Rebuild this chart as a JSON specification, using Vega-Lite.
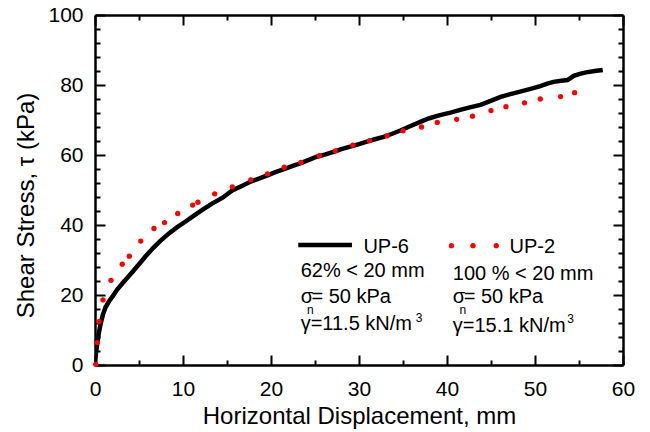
{
  "$schema": "https://vega.github.io/schema/vega-lite/v6.json",
  "width": 528,
  "height": 350,
  "autosize": {"type": "none"},
  "padding": {"left": 95, "top": 15, "right": 27, "bottom": 67},
  "background": "white",
  "config": {
    "view": {"stroke": null},
    "font": "Liberation Sans",
    "axis": {
      "grid": false,
      "domainColor": "black",
      "domainWidth": 2.5,
      "tickColor": "black",
      "tickWidth": 2,
      "labelColor": "black",
      "labelFont": "Liberation Sans",
      "labelFontSize": 21,
      "labelOverlap": false,
      "labelFlush": false,
      "titleColor": "black",
      "titleFont": "Liberation Sans",
      "titleFontWeight": "normal",
      "titleFontSize": 24
    }
  },
  "datasets": {
    "up6": [
      {"d": 0, "s": 0}, {"d": 0.1, "s": 3.2}, {"d": 0.26, "s": 6.2}, {"d": 0.45, "s": 9.3},
      {"d": 0.65, "s": 11.9}, {"d": 0.9, "s": 14.4}, {"d": 1.2, "s": 16.5}, {"d": 1.6, "s": 18.2},
      {"d": 2.0, "s": 19.6}, {"d": 2.5, "s": 21.5}, {"d": 3.1, "s": 23.3}, {"d": 3.7, "s": 25.0},
      {"d": 4.3, "s": 26.7}, {"d": 5.0, "s": 28.8}, {"d": 5.8, "s": 31.2}, {"d": 6.6, "s": 33.4},
      {"d": 7.4, "s": 35.4}, {"d": 8.4, "s": 37.6}, {"d": 9.3, "s": 39.3}, {"d": 10.3, "s": 41.0},
      {"d": 11.2, "s": 42.6}, {"d": 12.2, "s": 44.3}, {"d": 13.3, "s": 46.1}, {"d": 14.5, "s": 47.8},
      {"d": 15.6, "s": 49.9}, {"d": 16.8, "s": 51.3}, {"d": 17.7, "s": 52.4}, {"d": 18.7, "s": 53.3},
      {"d": 19.6, "s": 54.2}, {"d": 20.5, "s": 55.1}, {"d": 21.4, "s": 55.9}, {"d": 22.4, "s": 56.8},
      {"d": 23.3, "s": 57.6}, {"d": 24.3, "s": 58.6}, {"d": 25.2, "s": 59.5}, {"d": 26.2, "s": 60.2},
      {"d": 27.1, "s": 60.9}, {"d": 28.0, "s": 61.7}, {"d": 29.0, "s": 62.4}, {"d": 30.0, "s": 63.1},
      {"d": 30.9, "s": 63.8}, {"d": 31.8, "s": 64.5}, {"d": 32.8, "s": 65.2}, {"d": 33.7, "s": 66.0},
      {"d": 34.7, "s": 67.0}, {"d": 35.8, "s": 68.2}, {"d": 36.9, "s": 69.4}, {"d": 38.0, "s": 70.5},
      {"d": 39.2, "s": 71.4}, {"d": 40.4, "s": 72.1}, {"d": 41.5, "s": 72.9}, {"d": 42.6, "s": 73.6},
      {"d": 43.8, "s": 74.3}, {"d": 44.9, "s": 75.4}, {"d": 46.1, "s": 76.6}, {"d": 47.2, "s": 77.4},
      {"d": 48.3, "s": 78.1}, {"d": 49.5, "s": 78.9}, {"d": 50.6, "s": 79.7}, {"d": 51.4, "s": 80.4},
      {"d": 52.1, "s": 80.9}, {"d": 53.0, "s": 81.2}, {"d": 53.7, "s": 81.4}, {"d": 54.4, "s": 82.6},
      {"d": 55.1, "s": 83.2}, {"d": 55.8, "s": 83.6}, {"d": 56.8, "s": 84.0}, {"d": 57.7, "s": 84.3}
    ],
    "up2": [
      {"d": 0.08, "s": 0.2}, {"d": 0.26, "s": 6.4}, {"d": 0.46, "s": 12.4}, {"d": 0.91, "s": 18.6},
      {"d": 1.82, "s": 24.2}, {"d": 3.1, "s": 28.8}, {"d": 3.9, "s": 31.1}, {"d": 5.2, "s": 35.4},
      {"d": 6.7, "s": 39.0}, {"d": 7.9, "s": 40.7}, {"d": 9.4, "s": 43.3}, {"d": 11.1, "s": 45.7},
      {"d": 11.7, "s": 46.5}, {"d": 13.6, "s": 48.9}, {"d": 15.6, "s": 50.9}, {"d": 17.7, "s": 52.9},
      {"d": 19.6, "s": 54.6}, {"d": 21.5, "s": 56.5}, {"d": 23.4, "s": 57.9}, {"d": 25.5, "s": 59.8},
      {"d": 27.3, "s": 61.2}, {"d": 29.3, "s": 62.8}, {"d": 31.2, "s": 64.1}, {"d": 33.2, "s": 65.5},
      {"d": 35.0, "s": 66.9}, {"d": 37.1, "s": 68.0}, {"d": 38.9, "s": 69.3}, {"d": 41.1, "s": 70.2},
      {"d": 42.9, "s": 71.1}, {"d": 45.0, "s": 72.7}, {"d": 46.7, "s": 73.8}, {"d": 48.8, "s": 74.9},
      {"d": 50.6, "s": 76.0}, {"d": 52.9, "s": 76.7}, {"d": 54.5, "s": 77.8}
    ],
    "legLine": [{"d": 23.1, "s": 34.3}, {"d": 29.2, "s": 34.3}],
    "legDots": [{"d": 40.5, "s": 34.1}, {"d": 42.95, "s": 34.1}, {"d": 45.6, "s": 34.1}],
    "texts": [
      {"d": 30.5, "s": 31.9, "t": "UP-6"},
      {"d": 47.1, "s": 31.9, "t": "UP-2"},
      {"d": 23.37, "s": 25.06, "t": "62% < 20 mm"},
      {"d": 40.66, "s": 24.3, "t": "100 % < 20 mm"},
      {"d": 23.37, "s": 17.8, "t": "σ"},
      {"d": 24.6, "s": 17.8, "t": "= 50 kPa"},
      {"d": 40.66, "s": 17.7, "t": "σ"},
      {"d": 41.9, "s": 17.7, "t": "= 50 kPa"},
      {"d": 23.37, "s": 10.0, "t": "γ=11.5 kN/m"},
      {"d": 40.66, "s": 9.5, "t": "γ=15.1 kN/m"}
    ],
    "small": [
      {"d": 24.1, "s": 14.6, "t": "n"},
      {"d": 41.43, "s": 14.6, "t": "n"},
      {"d": 36.45, "s": 12.4, "t": "3"},
      {"d": 53.66, "s": 12.0, "t": "3"}
    ]
  },
  "layer": [
    {
      "data": {"name": "up6"},
      "mark": {"type": "line", "color": "black", "strokeWidth": 4.5, "clip": true},
      "encoding": {
        "x": {
          "field": "d", "type": "quantitative",
          "scale": {"domain": [0, 60], "nice": false, "zero": false},
          "axis": {
            "orient": "bottom",
            "values": [0, 5, 10, 15, 20, 25, 30, 35, 40, 45, 50, 55, 60],
            "labelExpr": "datum.value % 10 === 0 ? datum.label : ''",
            "tickSize": {"condition": {"test": "datum.value % 10 === 0", "value": -10}, "value": -5},
            "labelPadding": 23,
            "title": "Horizontal Displacement, mm",
            "titlePadding": 0
          }
        },
        "y": {
          "field": "s", "type": "quantitative",
          "scale": {"domain": [0, 100], "nice": false, "zero": false},
          "axis": {
            "orient": "left",
            "values": [0, 4, 8, 12, 16, 20, 24, 28, 32, 36, 40, 44, 48, 52, 56, 60, 64, 68, 72, 76, 80, 84, 88, 92, 96, 100],
            "labelExpr": "datum.value % 20 === 0 ? datum.label : ''",
            "tickSize": {"condition": {"test": "datum.value % 20 === 0", "value": -10}, "value": -5},
            "labelPadding": 22,
            "title": "Shear Stress, τ (kPa)",
            "titlePadding": 9,
            "titleY": 190
          }
        }
      }
    },
    {
      "data": {"name": "up2"},
      "mark": {"type": "circle", "color": "#ff0000", "size": 28, "opacity": 1},
      "encoding": {
        "x": {
          "field": "d", "type": "quantitative",
          "axis": {
            "orient": "top",
            "values": [0, 5, 10, 15, 20, 25, 30, 35, 40, 45, 50, 55, 60],
            "labels": false,
            "title": null,
            "tickSize": {"condition": {"test": "datum.value % 10 === 0", "value": -10}, "value": -5}
          }
        },
        "y": {
          "field": "s", "type": "quantitative",
          "axis": {
            "orient": "right",
            "values": [0, 4, 8, 12, 16, 20, 24, 28, 32, 36, 40, 44, 48, 52, 56, 60, 64, 68, 72, 76, 80, 84, 88, 92, 96, 100],
            "labels": false,
            "title": null,
            "tickSize": {"condition": {"test": "datum.value % 20 === 0", "value": -10}, "value": -5}
          }
        }
      }
    },
    {
      "data": {"name": "legLine"},
      "mark": {"type": "line", "color": "black", "strokeWidth": 4.5},
      "encoding": {
        "x": {"field": "d", "type": "quantitative", "axis": null},
        "y": {"field": "s", "type": "quantitative", "axis": null}
      }
    },
    {
      "data": {"name": "legDots"},
      "mark": {"type": "circle", "color": "#ff0000", "size": 28, "opacity": 1},
      "encoding": {
        "x": {"field": "d", "type": "quantitative", "axis": null},
        "y": {"field": "s", "type": "quantitative", "axis": null}
      }
    },
    {
      "data": {"name": "texts"},
      "mark": {"type": "text", "align": "left", "baseline": "alphabetic", "fontSize": 20, "font": "Liberation Sans", "color": "black"},
      "encoding": {
        "x": {"field": "d", "type": "quantitative", "axis": null},
        "y": {"field": "s", "type": "quantitative", "axis": null},
        "text": {"field": "t"}
      }
    },
    {
      "data": {"name": "small"},
      "mark": {"type": "text", "align": "left", "baseline": "alphabetic", "fontSize": 12, "font": "Liberation Sans", "color": "black"},
      "encoding": {
        "x": {"field": "d", "type": "quantitative", "axis": null},
        "y": {"field": "s", "type": "quantitative", "axis": null},
        "text": {"field": "t"}
      }
    }
  ],
  "resolve": {"axis": {"x": "independent", "y": "independent"}}
}
